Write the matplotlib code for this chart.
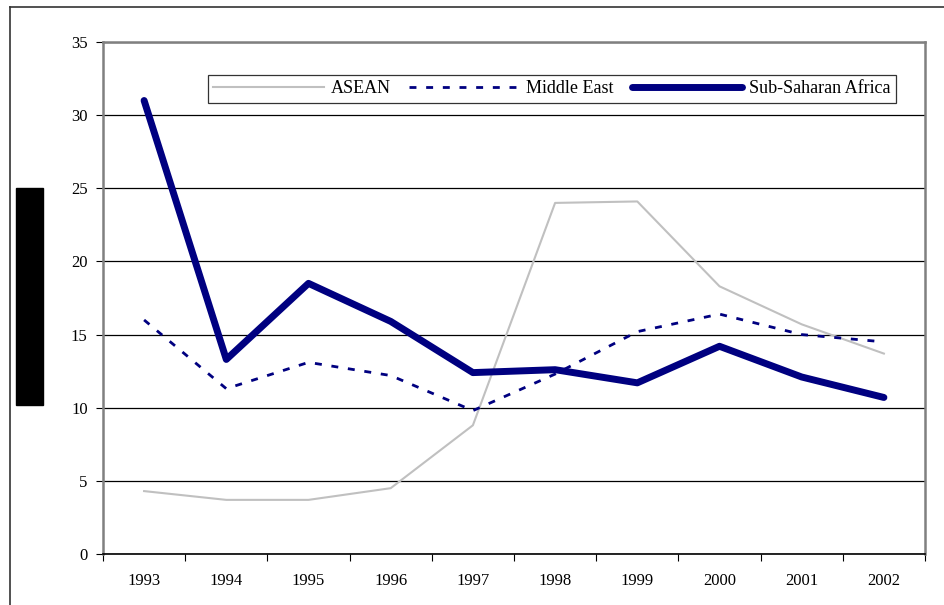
import numpy as np
import matplotlib.pyplot as plt
from matplotlib.lines import Line2D
from matplotlib.patches import Rectangle

years = ['1993', '1994', '1995', '1996', '1997', '1998', '1999', '2000', '2001', '2002']
asean = [4.3, 3.7, 3.7, 4.5, 8.8, 24.0, 24.1, 18.3, 15.7, 13.7]
middle_east = [16.0, 11.3, 13.1, 12.2, 9.8, 12.3, 15.2, 16.4, 15.0, 14.5]
ssa = [31.0, 13.3, 18.5, 15.9, 12.4, 12.6, 11.7, 14.2, 12.1, 10.7]

plt.rcParams['font.family'] = ['Liberation Serif', 'DejaVu Serif']

fig = plt.figure(figsize=(9.45, 6.05), dpi=100)
ax = fig.add_axes([103 / 945, 51 / 605, 822 / 945, 512 / 605])

x = np.arange(len(years))
ax.plot(x, asean, color='#c0c0c0', lw=1.5, label='ASEAN')
ax.plot(x, middle_east, color='#000080', lw=2, linestyle=(0, (2.5, 3.5)), label='Middle East')
ax.plot(x, ssa, color='#000080', lw=5, label='Sub-Saharan Africa', solid_capstyle='round')

ax.set_xlim(-0.5, 9.5)
ax.set_ylim(0, 35)
ax.set_yticks(np.arange(0, 36, 5))
ax.yaxis.grid(True, color='black', lw=0.9)
ax.set_axisbelow(True)

ax.set_xticks(np.arange(-0.5, 10, 1))
ax.set_xticklabels([])
ax.set_xticks(x, minor=True)
ax.set_xticklabels(years, minor=True)
ax.tick_params(axis='x', which='major', length=5, direction='out', color='black')
ax.tick_params(axis='x', which='minor', length=0, pad=14, labelsize=12)
ax.tick_params(axis='y', length=5, direction='out', pad=6, labelsize=12)

for s in ['left', 'top', 'right']:
    ax.spines[s].set_color('#808080')
    ax.spines[s].set_linewidth(1.8)
ax.spines['bottom'].set_color('black')
ax.spines['bottom'].set_linewidth(1.2)

leg = ax.legend(ncol=3, loc='upper right', bbox_to_anchor=(0.9647, 0.9355),
                fontsize=13, handlelength=6.1, handletextpad=0.4, columnspacing=1.0,
                frameon=True, fancybox=False, borderpad=0.3, borderaxespad=0)
leg.get_frame().set_edgecolor('black')
leg.get_frame().set_linewidth(0.9)

# outer border and redacted label block
fig.add_artist(Line2D([10 / 945, 10 / 945], [0, 1 - 7 / 605], color='#333333', lw=1.2))
fig.add_artist(Line2D([10 / 945, 1], [1 - 7 / 605, 1 - 7 / 605], color='#333333', lw=1.2))
fig.add_artist(Rectangle((16 / 945, 200 / 605), 27 / 945, 217 / 605, color='black'))

plt.savefig('out.png', dpi=100)
